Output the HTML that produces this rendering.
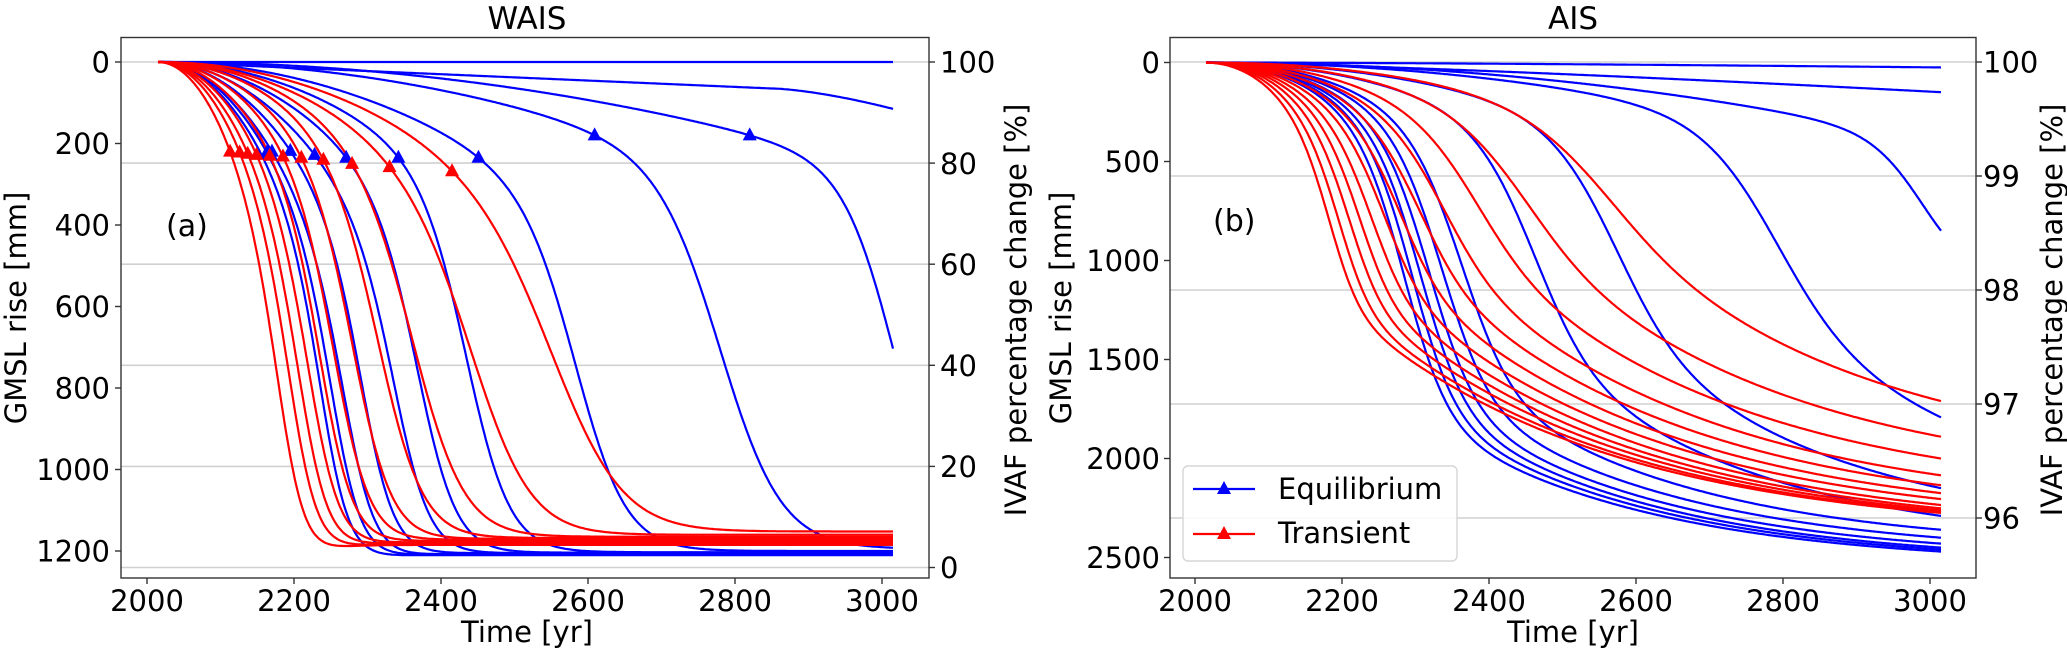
<!DOCTYPE html>
<html><head><meta charset="utf-8"><style>
html,body{margin:0;padding:0;background:#fff;}
svg text{font-family:"DejaVu Sans","Liberation Sans",sans-serif;fill:#000;}
</style></head><body>
<svg id="s" width="2067" height="650" viewBox="0 0 2067 650" xmlns="http://www.w3.org/2000/svg">
<rect width="2067" height="650" fill="#fff"/>
<g id="grid" stroke="#d0d0d0" stroke-width="1.6"></g>
<g id="curves" fill="none" stroke-width="2.2" stroke-linejoin="round"></g>
<g id="marks"></g>
<g fill="none" stroke="#333" stroke-width="1.4">
<rect x="121" y="37.5" width="808" height="540.5"/>
<rect x="1170" y="37.5" width="806" height="540.5"/>
</g>
<g id="ticks" stroke="#333" stroke-width="1.4"></g>
<g font-size="29">
<text x="527" y="29" text-anchor="middle" font-size="31">WAIS</text>
<text x="1573" y="29" text-anchor="middle" font-size="31">AIS</text>
<g text-anchor="end">
<text x="110" y="72.5">0</text><text x="110" y="154">200</text><text x="110" y="235.5">400</text><text x="110" y="317">600</text><text x="110" y="398.5">800</text><text x="110" y="480">1000</text><text x="110" y="561.5">1200</text>
<text x="1160" y="73">0</text><text x="1160" y="172">500</text><text x="1160" y="271">1000</text><text x="1160" y="370">1500</text><text x="1160" y="469">2000</text><text x="1160" y="568">2500</text>
</g>
<text x="940" y="72.5">100</text><text x="940" y="174">80</text><text x="940" y="275">60</text><text x="940" y="376">40</text><text x="940" y="477">20</text><text x="940" y="578">0</text>
<text x="1983" y="72.5">100</text><text x="1983" y="186.5">99</text><text x="1983" y="300.5">98</text><text x="1983" y="414.5">97</text><text x="1983" y="528.5">96</text>
<g text-anchor="middle">
<text x="147" y="611">2000</text><text x="294" y="611">2200</text><text x="441" y="611">2400</text><text x="588" y="611">2600</text><text x="735" y="611">2800</text><text x="882" y="611">3000</text>
<text x="1195" y="611">2000</text><text x="1342" y="611">2200</text><text x="1489" y="611">2400</text><text x="1636" y="611">2600</text><text x="1783" y="611">2800</text><text x="1930" y="611">3000</text>
<text x="527" y="642">Time [yr]</text>
<text x="1573" y="642">Time [yr]</text>
<text transform="translate(26,308) rotate(-90)">GMSL rise [mm]</text>
<text transform="translate(1071,308) rotate(-90)">GMSL rise [mm]</text>
<text transform="translate(1026,310) rotate(-90)">IVAF percentage change [%]</text>
<text transform="translate(2062,310) rotate(-90)">IVAF percentage change [%]</text>
</g>
<text x="166" y="236" font-size="30">(a)</text>
<text x="1213" y="231" font-size="30">(b)</text>
</g>
<rect x="1183" y="466" width="274" height="95" rx="5" fill="#fff" fill-opacity="0.85" stroke="#d6d6d6" stroke-width="1.4"/>
<line x1="1193" y1="489" x2="1255" y2="489" stroke="#00f" stroke-width="2.2"/>
<polygon points="1224,481 1231,494 1217,494" fill="#00f"/>
<line x1="1193" y1="534" x2="1255" y2="534" stroke="#f00" stroke-width="2.2"/>
<polygon points="1224,526 1231,539 1217,539" fill="#f00"/>
<text x="1278" y="499" font-size="29">Equilibrium</text>
<text x="1278" y="543" font-size="29">Transient</text>
</svg>
<script>
var NS="http://www.w3.org/2000/svg";
function el(p,n,a){var e=document.createElementNS(NS,n);for(var k in a)e.setAttribute(k,a[k]);document.getElementById(p).appendChild(e);return e;}
function logi(x){return 1/(1+Math.exp(-x));}
var XL=function(t){return 147+(t-2000)*0.735;}, YL=function(v){return 62+v*0.4075;};
var XR=function(t){return 1195+(t-2000)*0.735;}, YR=function(v){return 62.5+v*0.198;};
[62,163.1,264.2,365.3,466.4,567.5].forEach(function(y){el('grid','line',{x1:121,x2:929,y1:y,y2:y});});
[62,176,290,404,518].forEach(function(y){el('grid','line',{x1:1170,x2:1976,y1:y,y2:y});});
for(var i=0;i<6;i++){var t=2000+200*i;
 el('ticks','line',{x1:XL(t),x2:XL(t),y1:578,y2:584});el('ticks','line',{x1:XR(t),x2:XR(t),y1:578,y2:584});}
for(var v=0;v<=1200;v+=200)el('ticks','line',{x1:115,x2:121,y1:YL(v),y2:YL(v)});
for(var v=0;v<=2500;v+=500)el('ticks','line',{x1:1164,x2:1170,y1:YR(v),y2:YR(v)});
[62,163.1,264.2,365.3,466.4,567.5].forEach(function(y){el('ticks','line',{x1:929,x2:935,y1:y,y2:y});});
[62,176,290,404,518].forEach(function(y){el('ticks','line',{x1:1976,x2:1982,y1:y,y2:y});});
function draw(f,X,Y,col){var d='';for(var t=2015;t<=3015;t+=2){d+=(t==2015?'M':'L')+X(t).toFixed(1)+','+Y(f(t)).toFixed(1);}
 el('curves','path',{d:d,stroke:col});}
function tri(x,y,col){el('marks','polygon',{points:(x)+','+(y-8)+' '+(x+7)+','+(y+5)+' '+(x-7)+','+(y+5),fill:col});}
// target marker value vt: solve for vm so f(tm)=vt
function wais(tm,vt,tc,w,F){var S0=logi((tm-tc)/w);var vm=(vt-F*S0)/(1-S0);
 return function(t){var P=vm*Math.pow((t-2015)/(tm-2015),2);var S=logi((t-tc)/w);return P+(F-P)*S;};}
draw(function(t){return 0;},XL,YL,'#00f');
draw(function(t){return t<2850?65*(t-2015)/835:65+50*Math.pow((t-2850)/165,1.5);},XL,YL,'#00f');
var bl={tm:[2155,2163,2170,2195,2228,2271,2342,2451,2609,2820],vm:[225,222,220,218,228,235,235,235,180,180],
tc:[2245,2260,2278,2300,2345,2375,2440,2590,2785,3020],w:[20,21,22,23,25,27,30,35,42,35],F:[1210,1208,1207,1205,1205,1204,1203,1200,1195,1200]};
var bm=[];
for(var i=0;i<10;i++){var f=wais(bl.tm[i],bl.vm[i],bl.tc[i],bl.w[i],bl.F[i]);draw(f,XL,YL,'#00f');if(i>0)bm.push([XL(bl.tm[i]),YL(f(bl.tm[i]))]);}
var rd={tm:[2113,2126,2137,2149,2167,2185,2210,2240,2279,2330,2415],vm:[220,222,225,228,230,232,235,240,250,258,268],
tc:[2190,2204,2216,2229,2244,2262,2287,2322,2370,2455,2568],w:[19,20,21,22,23,25,27,31,36,42,50],F:[1185,1183,1180,1178,1175,1172,1170,1168,1165,1160,1152]};
var rm=[];
for(var i=0;i<11;i++){var f=wais(rd.tm[i],rd.vm[i],rd.tc[i],rd.w[i],rd.F[i]);draw(f,XL,YL,'#f00');rm.push([XL(rd.tm[i]),YL(f(rd.tm[i]))]);}
bm.forEach(function(p){tri(p[0],p[1],'#00f');});rm.forEach(function(p){tri(p[0],p[1],'#f00');});
function sp(x){return x>30?x:Math.log(1+Math.exp(x));}
function ais(tc,A,M,w,E,tau){var F=M;
 if(E!=null){var u3=w*sp((3015-tc)/w);F=M+(E-M)/(1-Math.exp(-u3/tau));}
 return function(t){var P=A*Math.pow((t-2015)/(tc-2015),2);var S=logi((t-tc)/w);var R=0;
  if(E!=null){var u=w*sp((t-tc)/w);R=(F-M)*(1-Math.exp(-u/tau));}return P+(M-P)*S+R;};}
draw(function(t){return 25*Math.pow((t-2015)/1000,1.5);},XR,YR,'#00f');
draw(function(t){return 150*Math.pow((t-2015)/1000,1.3);},XR,YR,'#00f');
var B={tc:[2290,2300,2311,2323,2340,2367,2465,2575,2790],A:[450,440,430,420,410,400,380,360,330],M:[1750,1730,1710,1690,1650,1600,1450,1350,1250],
w:[30,30,31,32,33,35,40,45,50],E:[2470,2460,2450,2430,2400,2360,2290,2150,1800]};
for(var i=0;i<9;i++)draw(ais(B.tc[i],B.A[i],B.M[i],B.w[i],B.E[i],300),XR,YR,'#00f');
draw(ais(2995,390,1100,35,null,300),XR,YR,'#00f');
var Rr={tc:[2190,2203,2217,2231,2247,2265,2287,2313,2345,2390,2455,2565],A:[480,470,460,450,440,430,420,400,380,350,320,300],
M:[1200,1200,1180,1160,1140,1120,1090,1050,1010,950,900,830],w:[22,23,24,25,27,29,31,34,38,43,50,58],
E:[2275,2270,2262,2252,2235,2205,2175,2135,2085,2000,1890,1710]};
for(var i=0;i<12;i++)draw(ais(Rr.tc[i],Rr.A[i],Rr.M[i],Rr.w[i],Rr.E[i],350),XR,YR,'#f00');
</script>
</body></html>
